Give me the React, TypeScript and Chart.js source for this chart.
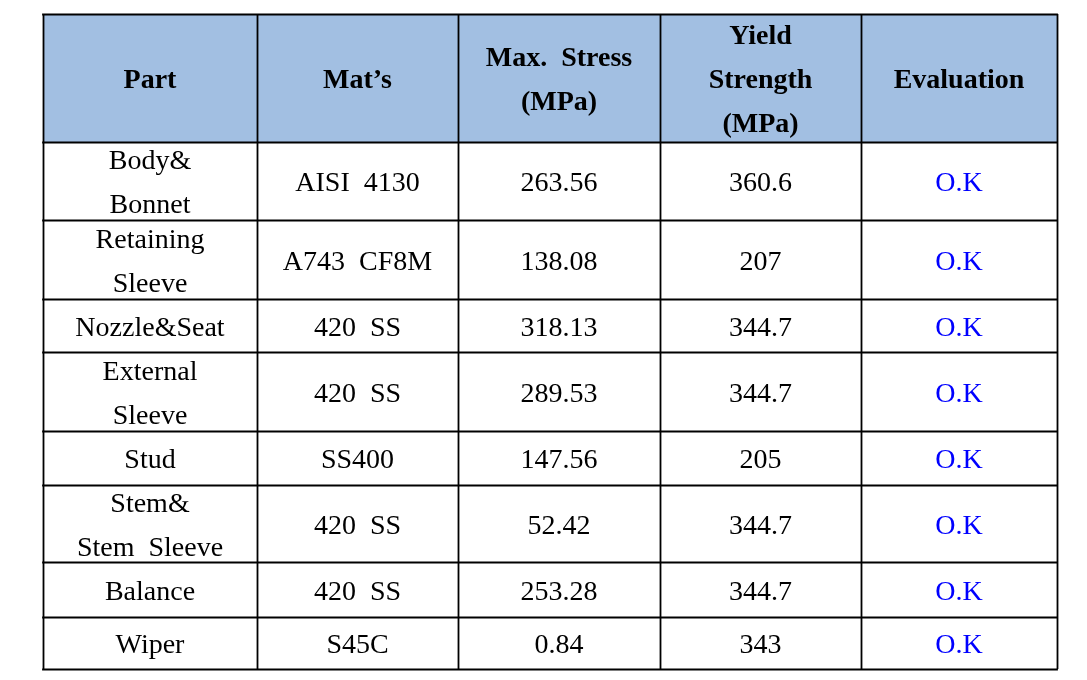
import { useEffect, useRef } from "react";
import { Chart, registerables } from "chart.js";

Chart.register(...registerables);

// ---- data ----
const headers = ["Part", "Mat’s", "Max.  Stress\n(MPa)", "Yield\nStrength\n(MPa)", "Evaluation"];
const parts = [
  "Body&\nBonnet",
  "Retaining\nSleeve",
  "Nozzle&Seat",
  "External\nSleeve",
  "Stud",
  "Stem&\nStem  Sleeve",
  "Balance",
  "Wiper",
];
const materials = ["AISI  4130", "A743  CF8M", "420  SS", "420  SS", "SS400", "420  SS", "420  SS", "S45C"];
const maxStress = [263.56, 138.08, 318.13, 289.53, 147.56, 52.42, 253.28, 0.84];
const yieldStrength = [360.6, 207, 344.7, 344.7, 205, 344.7, 344.7, 343];
const evaluation = ["O.K", "O.K", "O.K", "O.K", "O.K", "O.K", "O.K", "O.K"];

// ---- layout (relative sizes in table units) ----
const colWidths = [214, 201, 202, 201, 196];
const rowHeights = [128, 78, 79, 53, 79, 54, 77, 55, 52];

const totalW = colWidths.reduce((a, b) => a + b, 0);
const totalH = rowHeights.reduce((a, b) => a + b, 0);
const colEdges = colWidths.reduce<number[]>((acc, w) => [...acc, acc[acc.length - 1] + w], [0]);
const rowEdges = rowHeights.reduce<number[]>((acc, h) => [...acc, acc[acc.length - 1] + h], [0]);

type Cell = { x: number; y: number; text: string; header: boolean; col: number };

function buildCells(): Cell[] {
  const cells: Cell[] = [];
  const rows: string[][] = [headers];
  for (let i = 0; i < parts.length; i++) {
    rows.push([parts[i], materials[i], String(maxStress[i]), String(yieldStrength[i]), evaluation[i]]);
  }
  rows.forEach((row, r) => {
    row.forEach((text, c) => {
      cells.push({
        x: (colEdges[c] + colEdges[c + 1]) / 2,
        y: (rowEdges[r] + rowEdges[r + 1]) / 2,
        text,
        header: r === 0,
        col: c,
      });
    });
  });
  return cells;
}

const tablePlugin = {
  id: "tablePlugin",
  beforeDraw(chart: any) {
    const { ctx, scales } = chart;
    const xs = scales.x;
    const ys = scales.y;
    ctx.save();
    ctx.fillStyle = "#ffffff";
    ctx.fillRect(0, 0, chart.width, chart.height);
    const x0 = xs.getPixelForValue(0);
    const x1 = xs.getPixelForValue(totalW);
    const y0 = ys.getPixelForValue(rowEdges[0]);
    const y1 = ys.getPixelForValue(rowEdges[1]);
    ctx.fillStyle = "#a2bfe2";
    ctx.fillRect(x0, y0, x1 - x0, y1 - y0);
    ctx.restore();
  },
  afterDatasetsDraw(chart: any) {
    const { ctx, scales } = chart;
    const xs = scales.x;
    const ys = scales.y;
    ctx.save();
    // grid
    ctx.strokeStyle = "#000000";
    ctx.lineWidth = 1.8;
    const xl = xs.getPixelForValue(0);
    const xr = xs.getPixelForValue(totalW);
    const yt = ys.getPixelForValue(0);
    const yb = ys.getPixelForValue(totalH);
    ctx.beginPath();
    rowEdges.forEach((v) => {
      const y = Math.round(ys.getPixelForValue(v)) + 0.5;
      ctx.moveTo(xl - 0.9, y);
      ctx.lineTo(xr + 0.9, y);
    });
    colEdges.forEach((v) => {
      const x = Math.round(xs.getPixelForValue(v)) + 0.5;
      ctx.moveTo(x, yt);
      ctx.lineTo(x, yb);
    });
    ctx.stroke();

    // texts
    const meta = chart.getDatasetMeta(0);
    const cells: Cell[] = chart.data.datasets[0].data;
    ctx.textAlign = "center";
    ctx.textBaseline = "middle";
    meta.data.forEach((pt: any, i: number) => {
      const cell = cells[i];
      const lines = cell.text.split("\n");
      const isEval = !cell.header && cell.col === 4;
      ctx.font = cell.header
        ? "bold 28px 'Liberation Serif'"
        : "28px 'Liberation Serif'";
      ctx.fillStyle = isEval ? "#0000ff" : "#000000";
      const lh = 44;
      lines.forEach((ln, k) => {
        const dy = (k - (lines.length - 1) / 2) * lh + 3;
        ctx.fillText(ln, pt.x, pt.y + dy);
      });
    });
    ctx.restore();
  },
};

export default function App() {
  const ref = useRef<HTMLCanvasElement>(null);
  useEffect(() => {
    document.body.style.margin = "0";
    const chart = new Chart(ref.current as HTMLCanvasElement, {
      type: "scatter",
      data: {
        datasets: [
          {
            data: buildCells() as any,
            pointRadius: 0,
            pointHoverRadius: 0,
          },
        ],
      },
      options: {
        animation: false,
        responsive: false,
        maintainAspectRatio: false,
        layout: { padding: { left: 43, top: 14, right: 30, bottom: 11 } },
        plugins: { legend: { display: false }, tooltip: { enabled: false } },
        events: [],
        scales: {
          x: { type: "linear", min: 0, max: totalW, display: false },
          y: { type: "linear", min: 0, max: totalH, reverse: true, display: false },
        },
      },
      plugins: [tablePlugin],
    });
    return () => chart.destroy();
  }, []);
  return (
    <div style={{ width: 1087, height: 680, overflow: "hidden", background: "#fff" }}>
      <canvas ref={ref} width={1087} height={680} style={{ display: "block" }} />
    </div>
  );
}
